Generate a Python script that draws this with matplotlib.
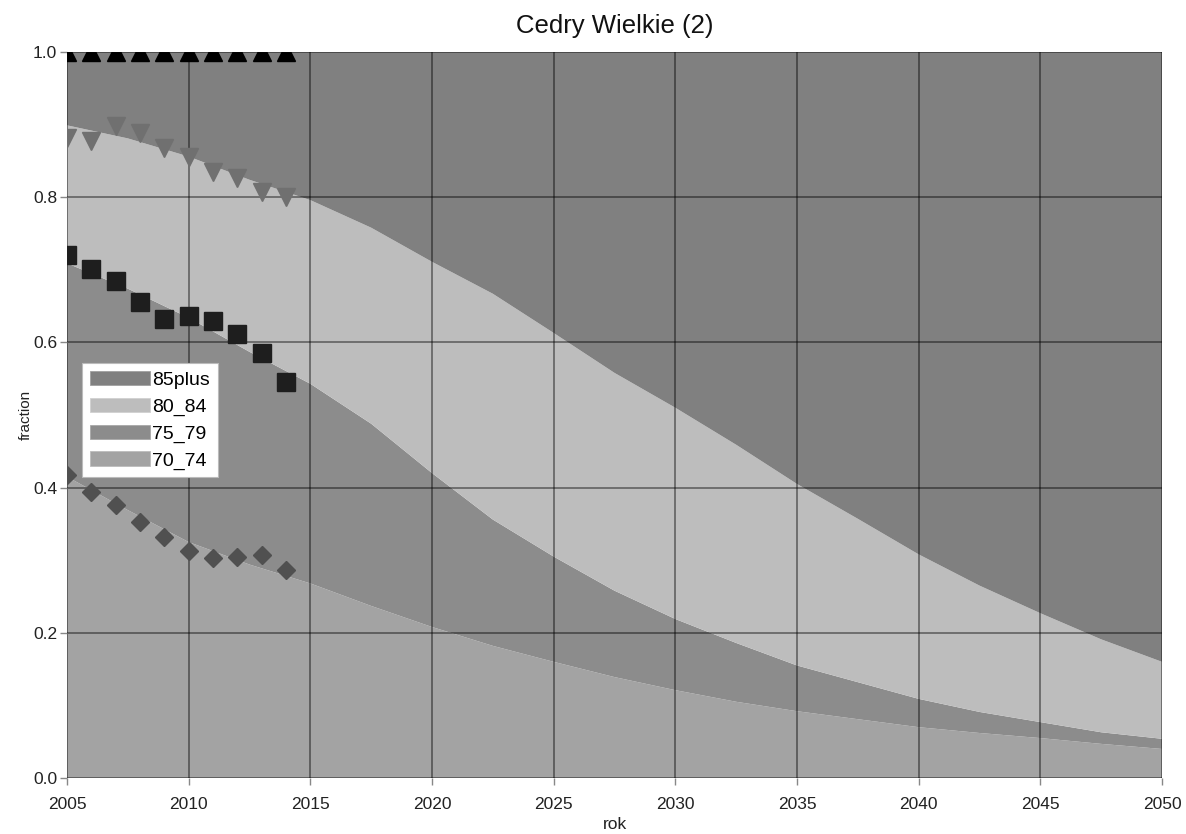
import matplotlib
matplotlib.use("Agg")
import matplotlib.pyplot as plt
from matplotlib.patches import Patch

plt.rcParams['font.family'] = ['Liberation Sans', 'DejaVu Sans']

# ---- data ----
years = [2005, 2007.5, 2010, 2012.5, 2015, 2017.5, 2020, 2022.5, 2025, 2027.5,
         2030, 2032.5, 2035, 2037.5, 2040, 2042.5, 2045, 2047.5, 2050]
share_70_74 = [0.415, 0.369, 0.325, 0.294, 0.268, 0.237, 0.208, 0.182, 0.160, 0.139,
               0.121, 0.105, 0.092, 0.081, 0.070, 0.062, 0.055, 0.047, 0.040]
share_75_79 = [0.294, 0.305, 0.309, 0.293, 0.275, 0.251, 0.212, 0.174, 0.145, 0.119,
               0.098, 0.081, 0.063, 0.051, 0.039, 0.029, 0.022, 0.016, 0.014]
share_80_84 = [0.190, 0.207, 0.222, 0.237, 0.253, 0.270, 0.291, 0.311, 0.308, 0.300,
               0.291, 0.273, 0.250, 0.225, 0.199, 0.174, 0.150, 0.128, 0.106]
share_85plus = [0.101, 0.119, 0.144, 0.176, 0.204, 0.242, 0.289, 0.333, 0.387, 0.442,
                0.490, 0.541, 0.595, 0.643, 0.692, 0.735, 0.773, 0.809, 0.840]

obs_years = [2005, 2006, 2007, 2008, 2009, 2010, 2011, 2012, 2013, 2014]
obs_cum_70_74 = [0.417, 0.394, 0.376, 0.353, 0.332, 0.312, 0.303, 0.305, 0.307, 0.287]
obs_cum_75_79 = [0.720, 0.701, 0.685, 0.655, 0.632, 0.637, 0.630, 0.612, 0.585, 0.546]
obs_cum_80_84 = [0.881, 0.878, 0.898, 0.889, 0.868, 0.856, 0.835, 0.826, 0.807, 0.800]
obs_cum_85plus = [1.0, 1.0, 1.0, 1.0, 1.0, 1.0, 1.0, 1.0, 1.0, 1.0]

x_ticks = [2005, 2010, 2015, 2020, 2025, 2030, 2035, 2040, 2045, 2050]
y_ticks = [0.0, 0.2, 0.4, 0.6, 0.8, 1.0]
y_tick_labels = ['0.0', '0.2', '0.4', '0.6', '0.8', '1.0']

labels = ['70_74', '75_79', '80_84', '85plus']
colors = ['#a3a3a3', '#8c8c8c', '#bdbdbd', '#808080']

fig = plt.figure(figsize=(11.86, 8.34), dpi=100)
ax = fig.add_axes([67/1186, 1-778/834, (1162-67)/1186, (778-52)/834])

ax.stackplot(years, share_70_74, share_75_79, share_80_84, share_85plus,
             colors=colors, linewidth=0, zorder=1)

ax.grid(True, color='black', alpha=0.45, linewidth=1.3, zorder=2)
ax.set_axisbelow(False)

ax.plot(obs_years, obs_cum_70_74, linestyle='none', marker='D', markersize=8.8,
        color='#505050', zorder=3)
ax.plot(obs_years, obs_cum_75_79, linestyle='none', marker='s', markersize=12.7,
        color='#1e1e1e', zorder=3)
ax.plot(obs_years, obs_cum_80_84, linestyle='none', marker='v', markersize=13,
        color='#707070', zorder=3)
ax.plot(obs_years, obs_cum_85plus, linestyle='none', marker='^', markersize=13.5,
        color='#000000', zorder=3)

ax.set_xlim(2005, 2050)
ax.set_ylim(0, 1.0)
ax.set_xticks(x_ticks)
ax.set_yticks(y_ticks)
ax.set_yticklabels(y_tick_labels)
for s in ax.spines.values():
    s.set_visible(False)
ax.tick_params(axis='both', direction='out', length=5, width=1, color='#888888',
               labelsize=12.5, labelcolor='#222222')
ax.tick_params(axis='x', pad=9)
ax.tick_params(axis='y', pad=2)

ax.set_xlabel('rok', fontsize=12.5, color='#222222', labelpad=3)
ax.set_ylabel('fraction', fontsize=11, color='#222222', labelpad=0)
ax.set_title('Cedry Wielkie (2)', fontsize=18.5, color='#111111', pad=14)

handles = [Patch(facecolor=colors[3], edgecolor='#a0a0a0', linewidth=0.6),
           Patch(facecolor=colors[2], edgecolor='#d0d0d0', linewidth=0.6),
           Patch(facecolor=colors[1], edgecolor='#a8a8a8', linewidth=0.6),
           Patch(facecolor=colors[0], edgecolor='#bcbcbc', linewidth=0.6)]
leg = ax.legend(handles, ['85plus', '80_84', '75_79', '70_74'],
                loc='upper left', bbox_to_anchor=(0.0137, 0.5716),
                borderaxespad=0, fontsize=14, frameon=True, fancybox=False,
                framealpha=1, edgecolor='#bbbbbb', handlelength=3.1,
                handleheight=0.77, handletextpad=0.1, labelspacing=0.45,
                borderpad=0.4)
leg.get_frame().set_linewidth(0.8)
leg.set_zorder(5)

fig.savefig('out.png', dpi=100)
